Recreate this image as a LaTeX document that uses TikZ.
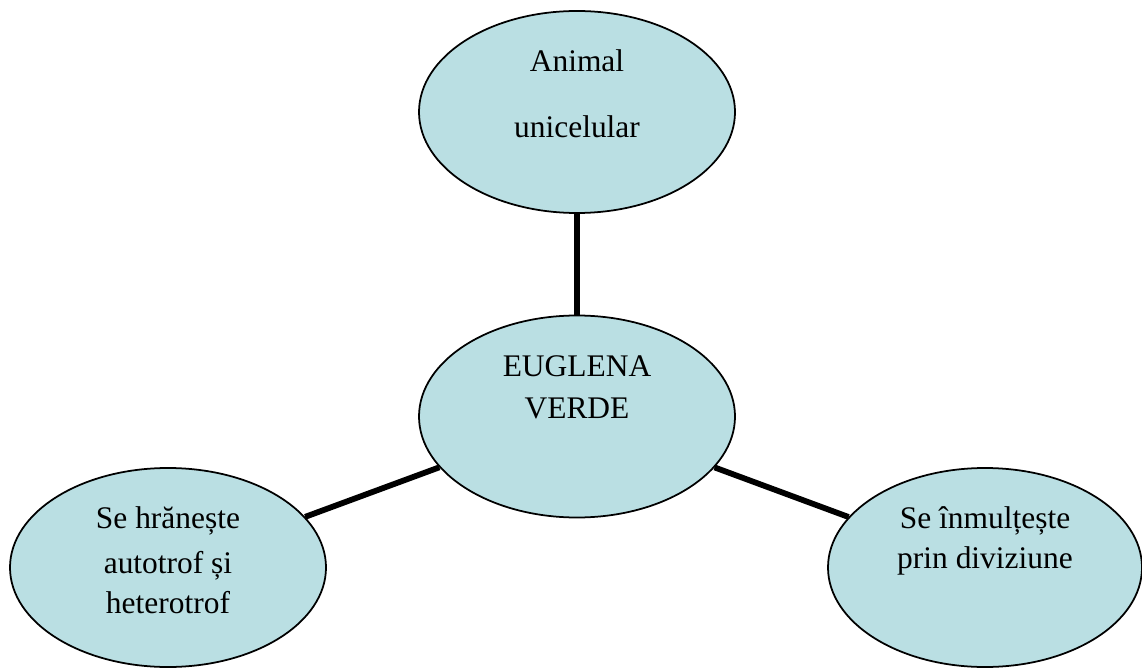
\documentclass[tikz,border=0pt]{standalone}
\usepackage{fontspec}
\setmainfont{Liberation Serif}
\definecolor{cellBlue}{HTML}{BADFE3}
\usetikzlibrary{shapes.geometric}

\begin{document}
\begin{tikzpicture}[every node/.style={font=\fontsize{17.9}{21}\selectfont},
    bubble/.style={ellipse, draw, line width=1pt, fill=cellBlue,
      minimum width=6.32cm, minimum height=4.04cm, inner sep=0pt},
    txt/.style={anchor=base, inner sep=0pt},
    link/.style={line width=3.3pt}]
  \useasboundingbox (0,0) rectangle (22.84,13.36);
  % Ellipses
  \node[bubble] (animal) at (11.54,11.12) {};
  \node[bubble] (euglena) at (11.54,5.03) {};
  \node[bubble, minimum height=3.98cm] (feed) at (3.36,2.01) {};
  \node[bubble, minimum width=6.28cm, minimum height=3.98cm] (split) at (19.70,2.01) {};
  % Links
  \draw[link] (animal) -- (euglena);
  \draw[link] (euglena) -- (feed);
  \draw[link] (euglena) -- (split);
  % Labels
  \node[txt] (animal1) at (11.54,11.92) {Animal};
  \node[txt] (animal2) at (11.54,10.60) {unicelular};
  \node[txt] (euglena1) at (11.54,5.82) {EUGLENA};
  \node[txt] (euglena2) at (11.54,5.00) {VERDE};
  \node[txt] (feed1) at (3.36,2.80) {Se hrănește};
  \node[txt] (feed2) at (3.36,1.90) {autotrof și};
  \node[txt] (feed3) at (3.36,1.10) {heterotrof};
  \node[txt] (split1) at (19.70,2.80) {Se înmulțește};
  \node[txt] (split2) at (19.70,2.00) {prin diviziune};
\end{tikzpicture}
\end{document}
